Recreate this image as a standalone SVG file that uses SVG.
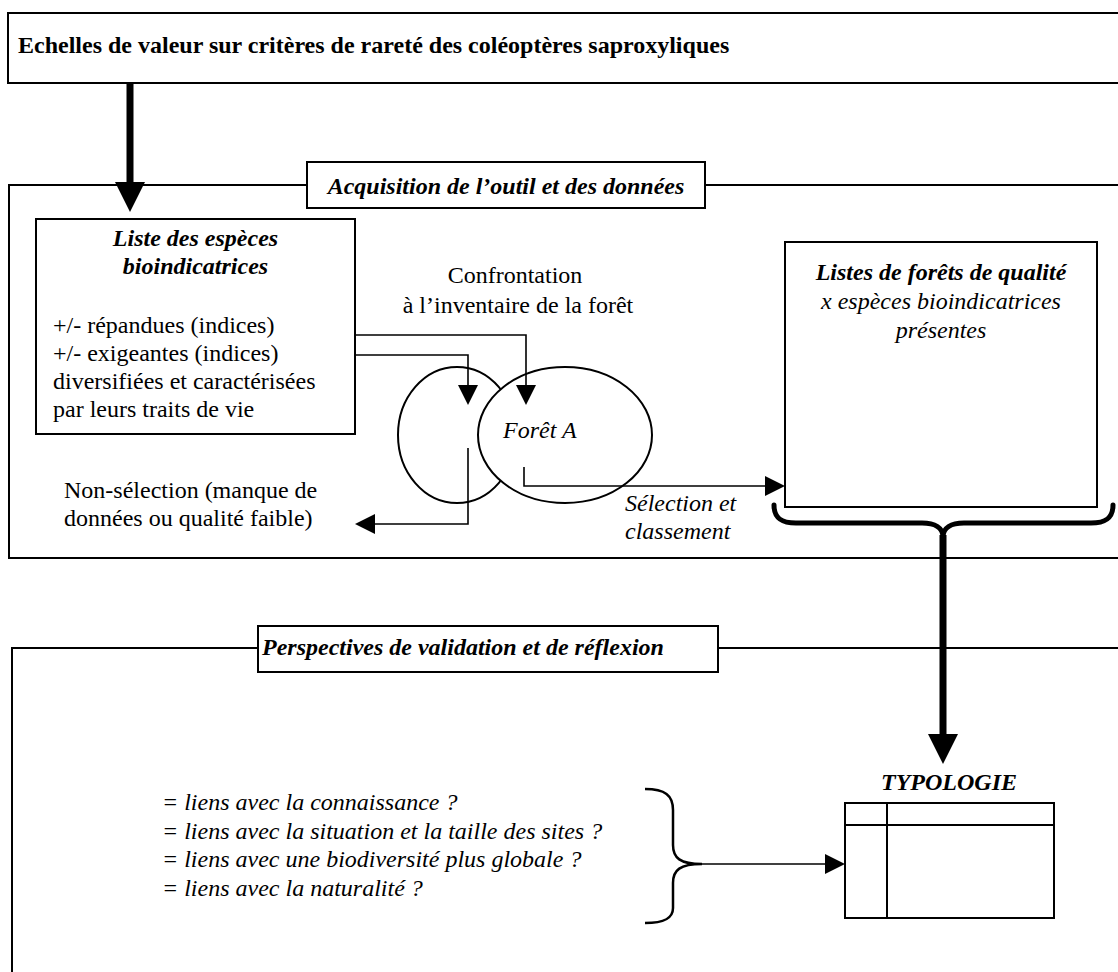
<svg xmlns="http://www.w3.org/2000/svg" width="1118" height="972" viewBox="0 0 1118 972" font-family="'Liberation Serif', 'DejaVu Serif', serif" font-size="24">
<style>
  .frame{fill:none;stroke:#000;stroke-width:2}
  .box{fill:#fff;stroke:#000;stroke-width:2}
  .link{fill:none;stroke:#000;stroke-width:1.6}
  .thick{fill:none;stroke:#000;stroke-width:7}
  .brace{fill:none;stroke:#000;stroke-width:5;stroke-linecap:round}
  .brace-thin{fill:none;stroke:#000;stroke-width:2.5}
  text{font-family:'Liberation Serif','DejaVu Serif',serif;font-size:24px;fill:#000}
  .b{font-weight:bold}
  .i{font-style:italic}
  .bi{font-weight:bold;font-style:italic}
  .mid{text-anchor:middle}
</style>
<defs>
  <marker id="head" viewBox="0 0 20 20" refX="0" refY="10" markerWidth="20" markerHeight="20" markerUnits="userSpaceOnUse" orient="auto">
    <path d="M0,0 L20,10 L0,20 z" fill="#000"/>
  </marker>
  <marker id="bighead" viewBox="0 0 30 30" refX="0" refY="15" markerWidth="30" markerHeight="30" markerUnits="userSpaceOnUse" orient="auto">
    <path d="M0,0 L30,15 L0,30 z" fill="#000"/>
  </marker>
</defs>
<rect width="1118" height="972" fill="#fff"/>

<!-- title banner -->
<g id="echelles">
  <rect class="box" x="8" y="13" width="1120" height="70"/>
  <text class="b" x="18" y="53">Echelles de valeur sur critères de rareté des coléoptères saproxyliques</text>
</g>

<!-- acquisition section frame -->
<g id="acquisition">
  <path class="frame" d="M1120,185 H9 V558 H1120"/>
  <rect class="box" x="307" y="162" width="398" height="46"/>
  <text class="bi mid" x="506" y="194">Acquisition de l’outil et des données</text>
</g>

<!-- perspectives section frame -->
<g id="perspectives">
  <path class="frame" d="M12,980 V648 H1120"/>
  <rect class="box" x="258" y="626" width="460" height="46"/>
  <text class="bi" x="262" y="655">Perspectives de validation et de réflexion</text>
</g>

<g id="liste-especes">
  <rect class="box" x="36" y="219" width="319" height="215"/>
  <text class="bi mid" x="195.5" y="246">Liste des espèces</text>
  <text class="bi mid" x="195.5" y="274">bioindicatrices</text>
  <text x="53" y="333">+/- répandues (indices)</text>
  <text x="53" y="361">+/- exigeantes (indices)</text>
  <text x="53" y="389">diversifiées et caractérisées</text>
  <text x="53" y="417">par leurs traits de vie</text>
</g>

<g id="confrontation">
  <text class="mid" x="515" y="283">Confrontation</text>
  <text class="mid" x="518" y="313">à l’inventaire de la forêt</text>
</g>

<g id="forets">
  <ellipse cx="457" cy="435" rx="59" ry="68" fill="#fff" stroke="#000" stroke-width="2"/>
  <ellipse cx="565" cy="435" rx="87" ry="68" fill="#fff" stroke="#000" stroke-width="2"/>
  <text class="i" x="503" y="438">Forêt A</text>
</g>

<g id="non-selection">
  <text x="64" y="498">Non-sélection (manque de</text>
  <text x="64" y="526">données ou qualité faible)</text>
</g>

<g id="selection">
  <text class="i" x="625" y="511">Sélection et</text>
  <text class="i" x="625" y="539">classement</text>
</g>

<g id="listes-forets">
  <rect class="box" x="785" y="242" width="312" height="265"/>
  <text class="bi mid" x="941" y="280">Listes de forêts de qualité</text>
  <text class="i mid" x="941" y="309">x espèces bioindicatrices</text>
  <text class="i mid" x="941" y="338">présentes</text>
</g>

<g id="questions">
  <text class="i" x="162" y="810">= liens avec la connaissance ?</text>
  <text class="i" x="162" y="839">= liens avec la situation et la taille des sites ?</text>
  <text class="i" x="162" y="867">= liens avec une biodiversité plus globale ?</text>
  <text class="i" x="162" y="896">= liens avec la naturalité ?</text>
</g>

<g id="typologie">
  <text class="bi mid" x="949" y="790">TYPOLOGIE</text>
  <rect x="845" y="803" width="209" height="115" fill="#fff" stroke="#000" stroke-width="2"/>
  <line x1="845" y1="825" x2="1054" y2="825" stroke="#000" stroke-width="2"/>
  <line x1="887" y1="803" x2="887" y2="918" stroke="#000" stroke-width="2"/>
</g>

<!-- connectors -->
<g id="connectors">
  <path class="thick" d="M130,83 V182" marker-end="url(#bighead)"/>
  <path class="link" d="M355,335 H526 V385" marker-end="url(#head)"/>
  <path class="link" d="M355,355 H468 V385" marker-end="url(#head)"/>
  <path class="link" d="M468,448 V524 H375" marker-end="url(#head)"/>
  <path class="link" d="M524,467 V486 H765" marker-end="url(#head)"/>
  <path class="brace" d="M774,505 C774,518 781,523 796,523 H922 C935,523 943,528 943,537 C943,528 951,523 964,523 H1091 C1106,523 1113,518 1113,505"/>
  <path class="thick" d="M943,535 V734" marker-end="url(#bighead)"/>
  <path class="brace-thin" d="M645,789 C665,789 673,795 673,810 V845 C673,858 680,864 702,864 C680,864 673,870 673,883 V908 C673,918 665,923 645,923"/>
  <path class="link" d="M702,864 H825" marker-end="url(#head)"/>
</g>
</svg>
